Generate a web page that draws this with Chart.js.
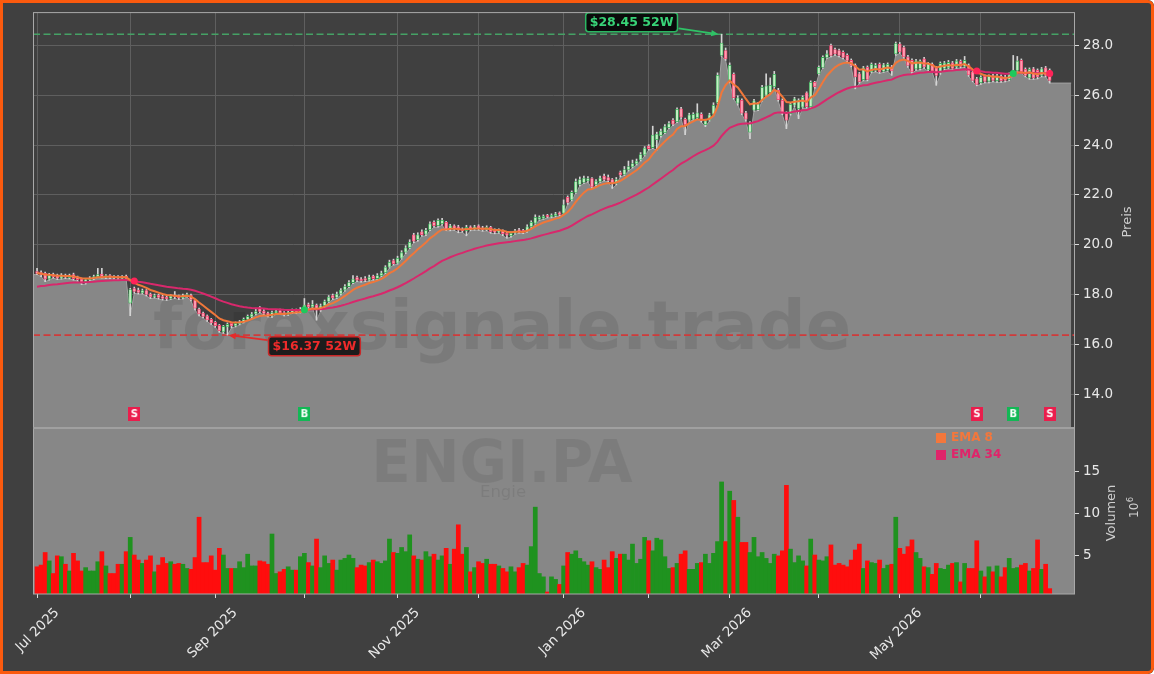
<!DOCTYPE html>
<html>
<head>
<meta charset="utf-8">
<script src="https://cdn.jsdelivr.net/npm/chart.js@4.4.1/dist/chart.umd.min.js"></script>
<style>
  html, body { margin: 0; padding: 0; background: #ffffff; }
  #wrap { position: relative; width: 1154px; height: 674px; background: #404040; border-radius: 0 6px 6px 0; overflow: hidden; }
  #wrap canvas { position: absolute; left: 0; top: 0; }
  #frame { position: absolute; left: 0; top: 0; width: 1154px; height: 674px; box-sizing: border-box;
           border: 3px solid #fb5a0e; border-radius: 0 6px 6px 0; pointer-events: none; }
</style>
</head>
<body>
<div id="wrap">
  <canvas id="chart" width="1154" height="674"></canvas>
  <div id="frame"></div>
</div>
<script>
// month ticks (trading day index of first session in month)
const monthTickIdx = [0, 23, 44, 66, 89, 109, 130, 151, 171, 193, 213, 233];
const monthTickLbl = ['Jul 2025', '', 'Sep 2025', '', 'Nov 2025', '', 'Jan 2026', '', 'Mar 2026', '', 'May 2026', ''];
const priceTicks = [14, 16, 18, 20, 22, 24, 26, 28];
const volTicks = [5, 10, 15];

// daily candles
const opens = [
18.92,18.88,18.85,18.62,18.80,18.78,18.66,18.78,18.68,18.80,
18.70,18.62,18.50,18.60,18.64,18.72,18.82,18.70,18.76,18.72,
18.72,18.66,18.74,17.65,18.24,18.18,18.06,18.16,18.02,17.90,
17.98,17.92,17.90,17.84,17.98,17.94,17.86,17.94,17.98,17.78,
17.42,17.26,17.14,17.00,16.88,16.76,16.50,16.70,16.84,16.74,
16.82,16.90,17.00,17.10,17.22,17.48,17.34,17.26,17.14,17.26,
17.36,17.28,17.20,17.28,17.38,17.30,17.40,17.60,17.50,17.58,
17.38,17.55,17.72,17.96,17.88,18.02,18.18,18.32,18.48,18.68,
18.62,18.64,18.58,18.74,18.64,18.76,18.88,19.10,19.36,19.26,
19.46,19.70,19.88,20.40,20.20,20.52,20.42,20.60,20.90,20.76,
20.84,20.90,20.62,20.76,20.72,20.62,20.56,20.72,20.62,20.76,
20.68,20.60,20.70,20.58,20.50,20.56,20.46,20.36,20.46,20.60,
20.58,20.54,20.72,20.86,21.02,21.06,21.18,21.12,21.16,21.28,
21.26,21.90,21.80,22.10,22.42,22.50,22.56,22.66,22.42,22.54,
22.76,22.70,22.62,22.46,22.90,22.82,23.00,23.12,23.24,23.40,
23.60,23.96,23.90,24.22,24.38,24.50,24.70,25.00,24.94,25.46,
25.04,25.00,25.04,25.10,25.24,24.82,25.00,25.24,25.70,27.60,
27.80,26.60,26.84,25.68,25.80,25.30,24.52,25.40,25.42,25.80,
26.00,26.10,26.34,26.20,25.80,25.30,25.26,25.60,25.46,25.52,
26.10,25.54,26.52,26.86,27.12,27.52,28.00,27.84,27.80,27.72,
27.60,27.40,27.20,26.86,26.62,27.12,26.94,27.00,27.24,26.96,
27.00,27.14,27.66,28.06,27.92,27.54,27.40,27.06,27.08,27.46,
27.02,27.24,27.10,26.90,27.08,27.10,27.30,27.14,27.36,27.16,
27.20,26.94,26.66,26.50,26.76,26.56,26.78,26.58,26.76,26.74,
26.62,26.84,27.00,27.40,27.04,26.70,27.06,27.00,26.80,27.10,
27.00];
const highs = [
19.05,18.95,18.90,18.85,18.86,18.82,18.84,18.82,18.82,18.86,
18.74,18.66,18.65,18.72,18.78,19.05,19.05,18.80,18.80,18.76,
18.76,18.76,18.78,18.25,18.30,18.26,18.22,18.20,18.06,18.02,
18.02,17.98,17.95,18.00,18.12,17.98,18.02,18.06,18.02,17.80,
17.46,17.30,17.18,17.04,16.92,16.80,16.76,16.86,16.88,16.90,
16.96,17.06,17.18,17.28,17.45,17.52,17.40,17.30,17.34,17.40,
17.42,17.32,17.36,17.42,17.42,17.48,17.84,17.66,17.76,17.62,
17.62,17.78,17.96,18.02,18.10,18.24,18.40,18.56,18.76,18.74,
18.68,18.72,18.78,18.78,18.84,18.94,19.16,19.38,19.42,19.54,
19.76,19.96,20.20,20.46,20.48,20.60,20.66,20.92,20.96,21.04,
21.06,20.94,20.82,20.80,20.78,20.68,20.78,20.76,20.78,20.80,
20.74,20.76,20.74,20.64,20.64,20.60,20.50,20.52,20.62,20.66,
20.62,20.80,20.96,21.20,21.16,21.20,21.22,21.24,21.30,21.32,
21.80,21.96,22.16,22.64,22.72,22.76,22.74,22.70,22.62,22.76,
22.84,22.80,22.66,22.70,22.96,23.14,23.36,23.40,23.44,23.70,
23.94,24.02,24.76,24.52,24.64,24.82,24.94,25.06,25.50,25.52,
25.08,25.28,25.30,25.66,25.30,25.04,25.28,25.70,26.90,28.45,
27.90,27.30,26.90,25.98,25.86,25.36,24.94,25.84,25.72,26.40,
26.86,26.70,26.96,26.28,25.86,25.34,25.70,25.92,25.86,25.98,
26.14,26.58,26.56,27.18,27.58,27.80,28.06,27.90,27.86,27.78,
27.66,27.46,27.26,26.92,27.16,27.18,27.30,27.28,27.30,27.28,
27.30,27.20,28.14,28.12,27.98,27.60,27.46,27.44,27.42,27.52,
27.32,27.30,27.16,27.34,27.36,27.40,27.36,27.44,27.42,27.56,
27.26,27.00,26.72,26.78,26.82,26.82,26.84,26.84,26.82,26.80,
26.90,27.60,27.56,27.46,27.10,27.10,27.12,27.06,27.12,27.16,
27.06];
const lows = [
18.80,18.72,18.52,18.58,18.66,18.60,18.62,18.64,18.63,18.58,
18.54,18.40,18.42,18.56,18.60,18.68,18.66,18.64,18.64,18.62,
18.60,18.62,18.60,17.15,18.05,18.02,18.02,17.94,17.84,17.86,
17.82,17.78,17.76,17.80,17.84,17.80,17.82,17.90,17.74,17.38,
17.14,17.06,16.92,16.80,16.68,16.48,16.44,16.37,16.66,16.70,
16.78,16.86,16.96,17.06,17.18,17.26,17.18,17.10,17.08,17.20,
17.20,17.14,17.16,17.24,17.24,17.26,17.36,17.44,17.46,16.97,
17.32,17.50,17.68,17.80,17.84,17.98,18.14,18.28,18.44,18.52,
18.50,18.52,18.54,18.58,18.60,18.72,18.84,19.06,19.18,19.22,
19.42,19.64,19.84,20.08,20.14,20.34,20.36,20.56,20.70,20.70,
20.78,20.56,20.56,20.58,20.48,20.50,20.36,20.56,20.58,20.58,
20.54,20.56,20.46,20.44,20.46,20.36,20.26,20.30,20.42,20.46,
20.44,20.50,20.66,20.82,20.98,21.02,21.08,21.08,21.12,21.16,
21.22,21.62,21.76,22.06,22.36,22.46,22.50,22.26,22.36,22.50,
22.56,22.52,22.26,22.40,22.72,22.78,22.96,23.08,23.20,23.36,
23.56,23.80,23.86,23.80,24.32,24.46,24.66,24.78,24.90,25.06,
24.42,24.96,25.00,25.06,24.92,24.74,24.96,25.20,25.66,27.56,
27.40,26.50,25.84,25.60,25.22,24.96,24.26,25.36,25.38,25.76,
25.96,26.04,26.30,25.76,25.22,24.66,25.20,25.54,25.06,25.48,
25.48,25.50,26.28,26.82,27.08,27.48,27.54,27.60,27.54,27.46,
27.34,27.14,26.26,26.48,26.58,26.58,26.90,26.94,26.88,26.92,
26.96,26.80,27.60,27.68,27.48,27.12,26.88,27.00,27.02,27.08,
26.96,26.92,26.40,26.84,27.02,27.06,27.02,27.08,27.10,27.12,
26.76,26.54,26.38,26.44,26.50,26.50,26.54,26.52,26.52,26.54,
26.58,26.80,26.96,26.88,26.74,26.64,26.64,26.66,26.74,26.74,
26.49];
const closes = [
18.85,18.80,18.62,18.78,18.72,18.66,18.78,18.70,18.76,18.64,
18.60,18.50,18.60,18.66,18.72,18.80,18.72,18.76,18.70,18.68,
18.66,18.72,18.66,18.20,18.12,18.08,18.16,18.00,17.90,17.96,
17.88,17.84,17.82,17.94,17.90,17.86,17.95,18.00,17.80,17.45,
17.22,17.12,16.98,16.86,16.75,16.55,16.72,16.80,16.74,16.84,
16.90,17.00,17.12,17.22,17.32,17.32,17.24,17.16,17.28,17.34,
17.26,17.20,17.30,17.36,17.30,17.40,17.58,17.50,17.60,17.38,
17.55,17.72,17.90,17.86,18.02,18.18,18.32,18.48,18.62,18.58,
18.56,18.58,18.70,18.64,18.76,18.86,19.10,19.30,19.24,19.46,
19.68,19.88,20.10,20.14,20.40,20.40,20.58,20.84,20.76,20.98,
20.98,20.62,20.76,20.64,20.58,20.56,20.70,20.62,20.72,20.64,
20.60,20.70,20.52,20.50,20.58,20.44,20.38,20.46,20.56,20.52,
20.50,20.72,20.90,21.10,21.10,21.14,21.12,21.18,21.24,21.22,
21.60,21.70,22.10,22.54,22.62,22.68,22.66,22.32,22.56,22.68,
22.62,22.58,22.44,22.62,22.80,23.02,23.14,23.26,23.36,23.62,
23.88,23.86,24.40,24.44,24.56,24.74,24.86,24.84,25.44,25.12,
24.82,25.22,25.24,25.30,24.98,24.98,25.22,25.60,26.80,28.10,
27.46,27.20,25.90,25.90,25.28,25.04,24.88,25.78,25.66,26.32,
26.38,26.40,26.84,25.82,25.28,25.00,25.64,25.86,25.80,25.92,
25.54,26.52,26.34,27.12,27.52,27.66,27.60,27.66,27.60,27.52,
27.40,27.20,26.74,26.54,27.10,26.64,27.24,27.20,26.94,27.22,
27.24,26.98,28.08,27.74,27.54,27.20,26.94,27.38,27.36,27.14,
27.26,26.98,26.80,27.28,27.30,27.32,27.08,27.38,27.16,27.40,
26.82,26.60,26.44,26.72,26.56,26.76,26.60,26.78,26.58,26.60,
26.82,26.98,27.38,26.94,26.80,27.04,26.70,26.74,27.06,26.80,
26.60];
// volume in millions
const volumes = [
3.6,3.8,5.3,4.3,2.8,4.9,4.8,3.9,3.1,5.2,
4.3,3.1,3.5,3.1,3.1,4.2,5.4,3.7,2.8,2.8,
3.9,3.9,5.4,7.1,5.0,4.4,4.0,4.4,4.9,3.0,
3.8,4.7,4.0,4.2,3.9,4.0,3.9,3.4,3.3,4.7,
9.5,4.1,4.1,4.9,3.2,5.8,5.0,3.4,3.4,3.4,
4.2,3.5,5.1,3.7,3.7,4.3,4.2,3.9,7.5,2.8,
3.0,3.3,3.6,3.2,3.2,4.8,5.2,4.1,3.7,6.9,
3.5,4.9,4.0,4.4,3.2,4.4,4.6,5.0,4.6,3.5,
3.8,3.7,4.1,4.4,4.2,4.0,4.3,6.9,5.3,5.2,
5.9,5.4,7.4,4.9,4.5,4.4,5.4,4.8,5.1,4.4,
4.9,5.8,3.9,5.7,8.6,5.1,5.9,3.0,3.5,4.2,
4.0,4.5,3.9,3.9,3.7,3.4,3.0,3.6,3.0,3.5,
4.0,3.8,6.0,10.7,2.8,2.4,0.6,2.4,2.1,1.5,
3.7,5.3,5.1,5.5,4.6,4.2,3.8,4.2,3.5,3.3,
4.4,3.5,5.4,4.6,5.1,5.1,4.4,6.3,4.0,4.5,
7.1,6.7,5.5,7.0,6.8,4.8,3.4,3.5,4.0,5.1,
5.5,3.3,3.3,4.0,4.1,5.1,4.0,5.2,6.6,13.7,
6.6,12.6,11.5,9.5,6.5,6.5,5.3,7.1,4.8,5.3,
4.6,4.0,5.1,4.9,5.5,13.3,5.7,4.1,4.9,4.3,
3.7,6.9,5.0,4.4,4.3,4.8,6.2,3.8,4.0,3.8,
3.6,4.4,5.6,6.3,3.4,4.3,4.1,4.0,4.4,3.4,
3.8,3.9,9.5,5.8,5.1,6.0,6.8,5.3,4.6,3.6,
3.5,2.7,4.0,3.4,3.3,3.8,4.0,4.1,1.8,4.0,
3.4,3.4,6.7,3.1,2.4,3.6,3.0,3.7,2.4,3.5,
4.6,3.4,3.5,3.8,4.0,3.1,3.4,6.8,3.3,3.9,
1.0];

// EMA cross signals
const sigIdx = [24, 66, 232, 241, 250];
const sigType = ['S', 'B', 'S', 'B', 'S'];
// EMA values just before the first candle
const ema8Seed = 18.86;
const ema34Seed = 18.28;

const MARKER_Y = 13.2;
const FILL_END_X = 255.3;

function ema(values, n, seed) {
  const k = 2 / (n + 1);
  let e = seed;
  return values.map(v => (e = e + k * (v - e)));
}
const ema8 = ema(closes, 8, ema8Seed);
const ema34 = ema(closes, 34, ema34Seed);

const isUp = closes.map((c, i) => c >= opens[i]);
const hi = Math.max(...highs), hiIdx = highs.indexOf(hi);
const lo = Math.min(...lows), loIdx = lows.indexOf(lo);
const n = closes.length;

function makeBadge(letter, color) {
  const c = document.createElement('canvas');
  c.width = 12; c.height = 14;
  const g = c.getContext('2d');
  g.fillStyle = color;
  g.fillRect(0, 0, 12, 14);
  g.fillStyle = '#ffffff';
  g.font = 'bold 10px "DejaVu Sans"';
  g.textAlign = 'center';
  g.textBaseline = 'middle';
  g.fillText(letter, 6, 7.5);
  return c;
}
const badges = { S: makeBadge('S', '#ea1d4c'), B: makeBadge('B', '#12b855') };

function roundRect(ctx, x, y, w, h, r) {
  ctx.beginPath();
  ctx.moveTo(x + r, y);
  ctx.arcTo(x + w, y, x + w, y + h, r);
  ctx.arcTo(x + w, y + h, x, y + h, r);
  ctx.arcTo(x, y + h, x, y, r);
  ctx.arcTo(x, y, x + w, y, r);
  ctx.closePath();
}
function drawTag(ctx, text, cx, cy, fg, bg, edge) {
  ctx.font = 'bold 12.5px "DejaVu Sans"';
  const w = ctx.measureText(text).width + 8, h = 19;
  roundRect(ctx, cx - w / 2, cy - h / 2, w, h, 3);
  ctx.fillStyle = bg; ctx.fill();
  ctx.lineWidth = 1.5; ctx.strokeStyle = edge; ctx.stroke();
  ctx.fillStyle = fg;
  ctx.textAlign = 'center'; ctx.textBaseline = 'middle';
  ctx.fillText(text, cx, cy + 0.5);
}
function drawArrow(ctx, x1, y1, x2, y2, color) {
  const a = Math.atan2(y2 - y1, x2 - x1), s = 8;
  ctx.strokeStyle = color; ctx.fillStyle = color; ctx.lineWidth = 1.8;
  ctx.beginPath(); ctx.moveTo(x1, y1);
  ctx.lineTo(x2 - s * 0.8 * Math.cos(a), y2 - s * 0.8 * Math.sin(a)); ctx.stroke();
  ctx.beginPath();
  ctx.moveTo(x2, y2);
  ctx.lineTo(x2 - s * Math.cos(a - 0.4), y2 - s * Math.sin(a - 0.4));
  ctx.lineTo(x2 - s * Math.cos(a + 0.4), y2 - s * Math.sin(a + 0.4));
  ctx.closePath(); ctx.fill();
}
function vText(ctx, text, x, y, font, color) {
  ctx.save();
  ctx.translate(x, y); ctx.rotate(-Math.PI / 2);
  ctx.font = font; ctx.fillStyle = color;
  ctx.textAlign = 'center'; ctx.textBaseline = 'middle';
  ctx.fillText(text, 0, 0);
  ctx.restore();
}

const panelPlugin = {
  id: 'panels',
  beforeDatasetsDraw(chart) {
    const ctx = chart.ctx, a = chart.chartArea, yp = chart.scales.yPrice, yv = chart.scales.yVol;
    ctx.save();
    ctx.fillStyle = '#878787';
    ctx.fillRect(a.left, yp.bottom, a.right - a.left, yv.bottom - yp.bottom);
    ctx.fillStyle = 'rgba(0,0,0,0.075)';
    ctx.textAlign = 'center'; ctx.textBaseline = 'alphabetic';
    ctx.font = 'bold 58px "DejaVu Sans"';
    ctx.fillText('ENGI.PA', 502, 482);
    ctx.font = '16.5px "DejaVu Sans"';
    ctx.fillText('Engie', 503, 497);
    ctx.restore();
  },
  afterDatasetDraw(chart, args) {
    if (args.index !== 0) return;
    const ctx = chart.ctx, a = chart.chartArea;
    ctx.save();
    ctx.beginPath(); ctx.rect(a.left, a.top, a.right - a.left, chart.scales.yPrice.bottom - a.top); ctx.clip();
    ctx.fillStyle = 'rgba(0,0,0,0.09)';
    ctx.textAlign = 'center'; ctx.textBaseline = 'alphabetic';
    ctx.font = 'bold 67px "DejaVu Sans"';
    ctx.fillText('forexsignale.trade', 502, 349);
    ctx.restore();
  },
  afterDatasetsDraw(chart) {
    const ctx = chart.ctx, a = chart.chartArea, x = chart.scales.x, yp = chart.scales.yPrice, yv = chart.scales.yVol;
    ctx.save();
    // 52W tags
    const hx = x.getPixelForValue(hiIdx), hy = yp.getPixelForValue(hi);
    drawArrow(ctx, hx - 43, hy - 6, hx - 3, hy, '#2fc266');
    drawTag(ctx, '$' + hi.toFixed(2) + ' 52W', hx - 90, hy - 12, '#38d377', '#0b0b0b', '#2bb862');
    const lx = x.getPixelForValue(loIdx), ly = yp.getPixelForValue(lo);
    drawArrow(ctx, lx + 40, ly + 5, lx + 1, ly, '#e52a2a');
    drawTag(ctx, '$' + lo.toFixed(2) + ' 52W', lx + 87, ly + 11, '#ef2b2b', '#1c1c1c', '#c92727');
    // legend
    ctx.font = 'bold 12px "DejaVu Sans"';
    ctx.textAlign = 'left'; ctx.textBaseline = 'middle';
    [['EMA 8', '#f3773c', 438], ['EMA 34', '#e0246a', 455]].forEach(([t, c, yy]) => {
      ctx.fillStyle = c;
      ctx.fillRect(936, yy - 5, 10, 10);
      ctx.fillText(t, 951, yy);
    });
    // panel frames
    ctx.strokeStyle = '#a9a9a9'; ctx.lineWidth = 1;
    ctx.strokeRect(a.left + 0.5, a.top + 0.5, a.right - a.left, yp.bottom - a.top);
    ctx.strokeRect(a.left + 0.5, yp.bottom, a.right - a.left, yv.bottom - yp.bottom);
    ctx.lineWidth = 2; ctx.strokeStyle = '#a0a0a0';
    ctx.beginPath(); ctx.moveTo(a.left, yp.bottom); ctx.lineTo(a.right, yp.bottom); ctx.stroke();
    ctx.restore();
  },
  afterDraw(chart) {
    const ctx = chart.ctx;
    vText(ctx, 'Preis', 1127.5, 222, '13px "DejaVu Sans"', '#cfcfcf');
    vText(ctx, 'Volumen', 1112, 513, '13px "DejaVu Sans"', '#cfcfcf');
    ctx.save();
    ctx.translate(1138, 518); ctx.rotate(-Math.PI / 2);
    ctx.fillStyle = '#cfcfcf'; ctx.textAlign = 'left'; ctx.textBaseline = 'alphabetic';
    ctx.font = '12px "DejaVu Sans"';
    ctx.fillText('10', 0, 0);
    const w = ctx.measureText('10').width;
    ctx.font = '8.5px "DejaVu Sans"';
    ctx.fillText('6', w + 0.5, -5);
    ctx.restore();
  }
};

const pts = arr => arr.map((v, i) => ({ x: i, y: v }));
const fillPts = [{ x: -1, y: lows[0] }].concat(pts(lows), [{ x: FILL_END_X, y: lows[n - 1] }]);
const tickFont = { family: 'DejaVu Sans', size: 13.5 };

new Chart(document.getElementById('chart'), {
  type: 'bar',
  data: {
    datasets: [
      { type: 'line', label: 'area', data: fillPts, yAxisID: 'yPrice', fill: 'start',
        backgroundColor: '#878787', borderColor: '#a2a2a2', borderWidth: 1, pointRadius: 0, order: 10 },
      { type: 'line', label: 'hi52', data: [{ x: -1, y: hi }, { x: 256, y: hi }], yAxisID: 'yPrice',
        borderColor: '#45a165', borderWidth: 1.6, borderDash: [7, 3.5], pointRadius: 0, order: 9 },
      { type: 'line', label: 'lo52', data: [{ x: -1, y: lo }, { x: 256, y: lo }], yAxisID: 'yPrice',
        borderColor: '#cf3b3b', borderWidth: 1.6, borderDash: [7, 3.5], pointRadius: 0, order: 9 },
      { type: 'bar', label: 'Volumen', data: pts(volumes), yAxisID: 'yVol', grouped: false,
        backgroundColor: isUp.map(u => u ? '#1f921f' : '#ff0d0d'), barThickness: 4.05, order: 8 },
      { type: 'bar', label: 'wick', data: highs.map((h, i) => ({ x: i, y: [lows[i], h] })), yAxisID: 'yPrice',
        grouped: false, backgroundColor: '#d4d4d4', barThickness: 1, order: 7 },
      { type: 'bar', label: 'body',
        data: opens.map((o, i) => ({ x: i, y: [Math.min(o, closes[i]), Math.max(o, closes[i])] })),
        yAxisID: 'yPrice', grouped: false, barThickness: 3, minBarLength: 1, borderSkipped: false, borderWidth: 0.8,
        backgroundColor: isUp.map(u => u ? '#c4efc4' : '#ff9cb1'),
        borderColor: isUp.map(u => u ? '#36a955' : '#ea4169'), order: 6 },
      { type: 'line', label: 'EMA 34', data: pts(ema34), yAxisID: 'yPrice',
        borderColor: '#d8286c', borderWidth: 2, pointRadius: 0, order: 5 },
      { type: 'line', label: 'EMA 8', data: pts(ema8), yAxisID: 'yPrice',
        borderColor: '#f0773a', borderWidth: 2, pointRadius: 0, order: 4 },
      { type: 'line', label: 'cross', data: sigIdx.map(i => ({ x: i, y: ema34[i] })), yAxisID: 'yPrice',
        showLine: false, pointRadius: 3.5, pointBorderWidth: 0,
        pointBackgroundColor: sigType.map(t => t === 'B' ? '#1ec95c' : '#ff2358'), order: 3 },
      { type: 'line', label: 'signal', data: sigIdx.map(i => ({ x: i, y: MARKER_Y })), yAxisID: 'yPrice',
        showLine: false, pointStyle: sigType.map(t => badges[t]), order: 2 }
    ]
  },
  options: {
    responsive: false,
    animation: false,
    devicePixelRatio: 1,
    layout: { padding: { left: 33, top: 12, right: 0, bottom: 0 } },
    plugins: { legend: { display: false }, tooltip: { enabled: false } },
    scales: {
      x: {
        type: 'linear', min: -1, max: 256, offset: false,
        afterBuildTicks: s => { s.ticks = monthTickIdx.map(v => ({ value: v })); },
        afterFit: s => { s.height = 80; s.paddingLeft = 0; s.paddingRight = 0; },
        ticks: {
          autoSkip: false, minRotation: 45, maxRotation: 45, labelOffset: 20, padding: 7,
          color: '#e8e8e8', font: tickFont,
          callback: v => monthTickLbl[monthTickIdx.indexOf(v)]
        },
        grid: { offset: false, color: '#5f5f5f', tickColor: '#dcdcdc', tickLength: 4, lineWidth: 1 },
        border: { display: false }
      },
      yPrice: {
        type: 'linear', position: 'right', stack: 'panels', stackWeight: 416,
        min: 12.64, max: 29.34,
        afterBuildTicks: s => { s.ticks = priceTicks.map(v => ({ value: v })); },
        afterFit: s => { s.width = 80; },
        ticks: { color: '#e8e8e8', font: tickFont, padding: 4, callback: v => v.toFixed(1) },
        grid: { color: '#5f5f5f', tickColor: '#dcdcdc', tickLength: 5 },
        border: { display: false }
      },
      yVol: {
        type: 'linear', position: 'right', stack: 'panels', stackWeight: 166,
        min: 0.36, max: 20.12,
        afterBuildTicks: s => { s.ticks = volTicks.map(v => ({ value: v })); },
        afterFit: s => { s.width = 80; },
        ticks: { color: '#e8e8e8', font: tickFont, padding: 4, callback: v => String(v) },
        grid: { drawOnChartArea: false, tickColor: '#dcdcdc', tickLength: 5 },
        border: { display: false }
      }
    }
  },
  plugins: [panelPlugin]
});
</script>
</body>
</html>
